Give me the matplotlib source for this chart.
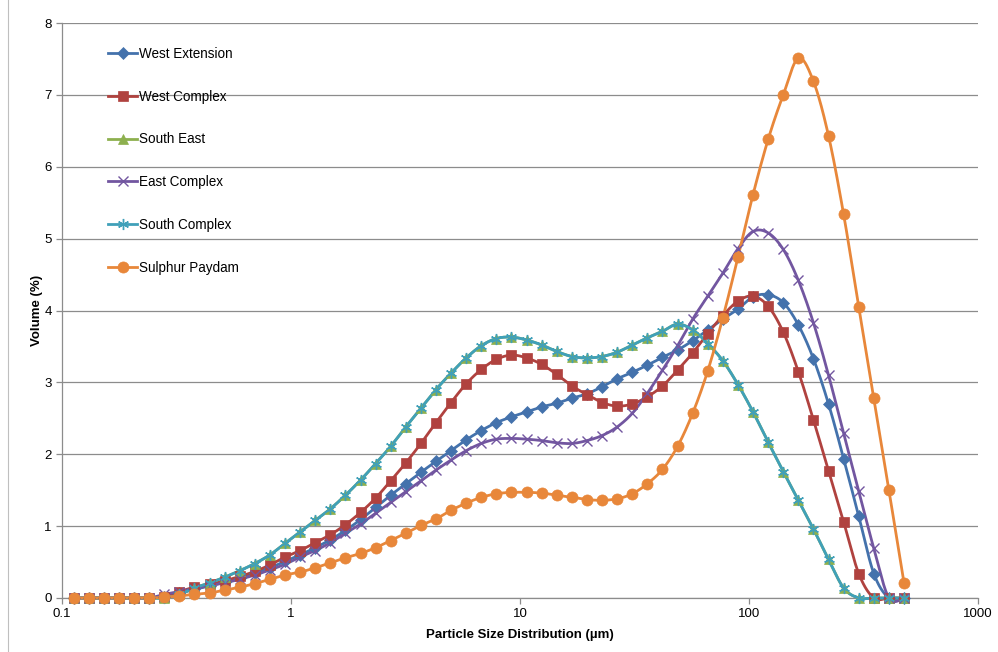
import numpy as np
import matplotlib
matplotlib.use("Agg")
import matplotlib.pyplot as plt
from matplotlib.lines import Line2D
from matplotlib.ticker import FixedLocator, FixedFormatter, NullLocator

plt.rcParams['font.family'] = ['Liberation Sans', 'DejaVu Sans']

# Particle size classes (µm)
sizes = [0.1125, 0.1309, 0.1524, 0.1773, 0.2064, 0.2402, 0.2796, 0.3254, 0.3788, 0.4409,
         0.5132, 0.5973, 0.6952, 0.8091, 0.9418, 1.096, 1.276, 1.485, 1.728, 2.012,
         2.342, 2.725, 3.172, 3.692, 4.297, 5.002, 5.822, 6.776, 7.887, 9.180,
         10.69, 12.44, 14.48, 16.85, 19.61, 22.83, 26.57, 30.93, 36.00, 41.90,
         48.76, 56.76, 66.06, 76.89, 89.49, 104.1, 121.2, 141.1, 164.2, 191.1,
         222.5, 258.9, 301.4, 350.8, 408.3, 475.3]

west_extension = [0, 0, 0, 0, 0, 0, 0.02, 0.07, 0.12, 0.17,
                  0.22, 0.28, 0.35, 0.42, 0.51, 0.60, 0.70, 0.81, 0.94, 1.09,
                  1.26, 1.43, 1.59, 1.75, 1.90, 2.05, 2.20, 2.33, 2.44, 2.52,
                  2.59, 2.66, 2.71, 2.78, 2.84, 2.94, 3.05, 3.14, 3.24, 3.35,
                  3.45, 3.58, 3.73, 3.88, 4.02, 4.19, 4.22, 4.11, 3.80, 3.33,
                  2.70, 1.94, 1.14, 0.34, 0, 0]

west_complex = [0, 0, 0, 0, 0, 0, 0.02, 0.09, 0.15, 0.19,
                0.24, 0.30, 0.37, 0.46, 0.57, 0.66, 0.77, 0.88, 1.02, 1.19,
                1.39, 1.63, 1.88, 2.15, 2.44, 2.72, 2.98, 3.18, 3.32, 3.38,
                3.34, 3.25, 3.11, 2.95, 2.83, 2.72, 2.67, 2.70, 2.80, 2.95,
                3.17, 3.41, 3.68, 3.93, 4.13, 4.20, 4.06, 3.70, 3.15, 2.48,
                1.77, 1.06, 0.34, 0, 0, 0]

south_east = [0, 0, 0, 0, 0, 0, 0, 0.05, 0.14, 0.21,
              0.29, 0.38, 0.48, 0.60, 0.76, 0.92, 1.08, 1.24, 1.43, 1.64,
              1.87, 2.11, 2.38, 2.64, 2.90, 3.13, 3.34, 3.51, 3.61, 3.63,
              3.59, 3.52, 3.43, 3.36, 3.34, 3.36, 3.42, 3.52, 3.62, 3.71,
              3.81, 3.73, 3.54, 3.30, 2.97, 2.59, 2.17, 1.76, 1.36, 0.96,
              0.54, 0.14, 0, 0, 0, 0]

east_complex = [0, 0, 0, 0, 0, 0, 0.05, 0.09, 0.13, 0.17,
                0.21, 0.26, 0.32, 0.39, 0.47, 0.57, 0.66, 0.77, 0.90, 1.03,
                1.18, 1.33, 1.48, 1.63, 1.78, 1.92, 2.05, 2.15, 2.21, 2.22,
                2.21, 2.19, 2.16, 2.15, 2.19, 2.26, 2.38, 2.57, 2.85, 3.17,
                3.51, 3.88, 4.20, 4.52, 4.86, 5.10, 5.08, 4.85, 4.42, 3.83,
                3.10, 2.29, 1.49, 0.69, 0, 0]

south_complex = [0, 0, 0, 0, 0, 0, 0, 0.05, 0.14, 0.21,
                 0.29, 0.38, 0.48, 0.60, 0.76, 0.92, 1.08, 1.24, 1.43, 1.64,
                 1.87, 2.11, 2.38, 2.64, 2.90, 3.13, 3.34, 3.51, 3.61, 3.63,
                 3.59, 3.52, 3.43, 3.36, 3.34, 3.36, 3.42, 3.52, 3.62, 3.71,
                 3.81, 3.73, 3.54, 3.30, 2.97, 2.59, 2.17, 1.76, 1.36, 0.96,
                 0.54, 0.14, 0, 0, 0, 0]

sulphur_paydam = [0, 0, 0, 0, 0, 0, 0.01, 0.03, 0.05, 0.07,
                  0.11, 0.15, 0.20, 0.26, 0.32, 0.36, 0.42, 0.49, 0.56, 0.62,
                  0.70, 0.80, 0.90, 1.01, 1.10, 1.22, 1.32, 1.40, 1.45, 1.47,
                  1.47, 1.46, 1.43, 1.40, 1.37, 1.36, 1.38, 1.45, 1.59, 1.79,
                  2.11, 2.57, 3.16, 3.90, 4.74, 5.61, 6.38, 7.00, 7.51, 7.19,
                  6.43, 5.34, 4.05, 2.78, 1.50, 0.21]

series_names = ["West Extension", "West Complex", "South East",
                "East Complex", "South Complex", "Sulphur Paydam"]
x_ticks = [0.1, 1, 10, 100, 1000]
x_tick_labels = ["0.1", "1", "10", "100", "1000"]
y_ticks = [0, 1, 2, 3, 4, 5, 6, 7, 8]

styles = [
    dict(color="#4472AC", marker="D", ms=6.0),
    dict(color="#B0423F", marker="s", ms=7.5),
    dict(color="#8DB04E", marker="^", ms=7.5),
    dict(color="#7256A0", marker="x", ms=7.0),
    dict(color="#40A0B9", marker=(6, 2, 0), ms=8.0),
    dict(color="#E8873A", marker="o", ms=8.0),
]


def smooth_curve(xs, ys, n=24):
    """Bezier smoothing through the points in (log10 x, y) space."""
    pts = np.column_stack([np.log10(xs), ys])
    P = np.vstack([pts[0], pts, pts[-1]])
    t = np.linspace(0, 1, n)[:, None]
    out = []
    for k in range(len(pts) - 1):
        p0, p1, p2, p3 = P[k], P[k + 1], P[k + 2], P[k + 3]
        c1 = p1 + (p2 - p0) / 6.0
        c2 = p2 - (p3 - p1) / 6.0
        seg = ((1 - t) ** 3) * p1 + 3 * ((1 - t) ** 2) * t * c1 \
            + 3 * (1 - t) * (t ** 2) * c2 + (t ** 3) * p2
        out.append(seg if k == 0 else seg[1:])
    arr = np.vstack(out)
    return 10 ** arr[:, 0], arr[:, 1]


W, H = 998, 652
fig = plt.figure(figsize=(W / 100, H / 100), dpi=100)
ax = fig.add_axes([62 / W, 1 - 598 / H, (978 - 62) / W, (598 - 23) / H])

grid_color = "#8C8C8C"
ax.set_xscale("log")
ax.set_xlim(0.1, 1000)
ax.set_ylim(0, 8)
ax.yaxis.grid(True, color=grid_color, linewidth=0.9)
ax.set_axisbelow(True)

all_series = [west_extension, west_complex, south_east,
              east_complex, south_complex, sulphur_paydam]
handles = []
for name, vals, st in zip(series_names, all_series, styles):
    sx, sy = smooth_curve(np.array(sizes), np.array(vals, dtype=float))
    ax.plot(sx, sy, color=st["color"], lw=2.0, solid_capstyle="round",
            zorder=3, clip_on=False)
    mew = 1.0 if st["marker"] in ("x", (6, 2, 0)) else 0.5
    ax.plot(sizes, vals, linestyle="none", marker=st["marker"], ms=st["ms"],
            color=st["color"], mec=st["color"], mew=mew, zorder=4, clip_on=False)
    handles.append(Line2D([], [], color=st["color"], lw=2.0, marker=st["marker"],
                          ms=st["ms"], mec=st["color"], mew=mew))

for side in ("top", "right"):
    ax.spines[side].set_visible(False)
for side in ("left", "bottom"):
    ax.spines[side].set_color(grid_color)
    ax.spines[side].set_linewidth(0.9)

ax.xaxis.set_major_locator(FixedLocator(x_ticks))
ax.xaxis.set_major_formatter(FixedFormatter(x_tick_labels))
ax.xaxis.set_minor_locator(NullLocator())
ax.set_yticks(y_ticks)
ax.set_yticklabels([str(v) for v in y_ticks])
ax.tick_params(axis="both", direction="out", length=4, width=0.9,
               color=grid_color, labelsize=9.5, labelcolor="black", pad=3.5)

ax.set_xlabel("Particle Size Distribution (µm)", fontsize=9.5, fontweight="bold",
              labelpad=6)
ax.set_ylabel("Volume (%)", fontsize=9.5, fontweight="bold", labelpad=1)

ax.legend(handles, series_names, loc="upper left",
          bbox_to_anchor=(108 / W, 1 - 47 / H), bbox_transform=fig.transFigure,
          frameon=False, fontsize=9.75, handlelength=2.15, handletextpad=0.15,
          labelspacing=2.12, borderpad=0, borderaxespad=0)

fig.add_artist(Line2D([8 / W, 8 / W], [0, 1], transform=fig.transFigure,
                      color="#BFBFBF", lw=0.8))

fig.savefig("out.png", dpi=100)
